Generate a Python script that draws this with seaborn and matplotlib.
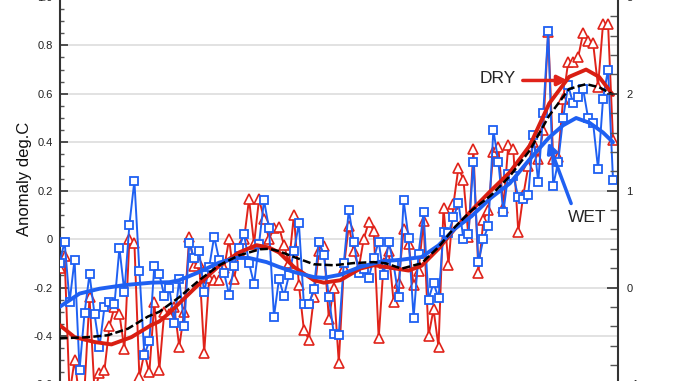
import numpy as np
import pandas as pd
import matplotlib
matplotlib.use("Agg")
import matplotlib.pyplot as plt
import seaborn as sns
from matplotlib.ticker import MultipleLocator, FuncFormatter

# yearly anomalies (deg C); values below -0.6 run off the bottom
years = list(range(1900, 2012))
dry = [
    -0.12, -0.07, -0.64, -0.50, -0.66, -0.62, -0.24, -0.63, -0.555, -0.54,
    -0.36, -0.28, -0.31, -0.455, 0.0, -0.015, -0.57, -0.47, -0.55, -0.26,
    -0.54, -0.30, -0.31, -0.28, -0.445, -0.30, 0.01, -0.11, -0.10, -0.47,
    -0.16, -0.17, -0.17, -0.12, 0.0, -0.165, -0.05, 0.0, 0.165, -0.02,
    0.165, 0.085, 0.0, 0.045, 0.05, -0.025, -0.10, 0.10, -0.19, -0.375,
    -0.415, -0.24, -0.05, -0.03, -0.33, -0.20, -0.51, -0.12, 0.055, -0.05,
    -0.12, 0.0, 0.07, 0.035, -0.41, -0.10, -0.05, -0.26, -0.18, 0.04,
    -0.02, -0.19, -0.13, 0.075, -0.40, -0.29, -0.445, 0.13, -0.105, 0.145,
    0.295, 0.245, 0.01, 0.37, -0.14, 0.08, 0.12, 0.36, 0.38, 0.13,
    0.39, 0.37, 0.03, 0.18, 0.30, 0.40, 0.33, 0.45, 0.855, 0.33,
    0.34, 0.58, 0.73, 0.73, 0.75, 0.85, 0.82, 0.81, 0.63, 0.89,
    0.89, 0.41,
]
wet = [
    -0.10, -0.01, -0.26, -0.085, -0.54, -0.305, -0.145, -0.31, -0.445, -0.28,
    -0.26, -0.27, -0.037, -0.22, 0.06, 0.24, -0.13, -0.48, -0.42, -0.11,
    -0.145, -0.235, -0.20, -0.345, -0.165, -0.36, -0.015, -0.08, -0.05, -0.22,
    -0.115, 0.01, -0.085, -0.14, -0.23, -0.11, -0.035, 0.02, -0.10, -0.185,
    -0.02, 0.16, 0.045, -0.32, -0.165, -0.235, -0.15, -0.05, 0.065, -0.27,
    -0.27, -0.205, -0.01, -0.065, -0.24, -0.39, -0.395, -0.10, 0.12, -0.01,
    -0.14, -0.125, -0.16, -0.08, -0.01, -0.15, -0.01, -0.105, -0.24, 0.16,
    0.005, -0.325, -0.06, 0.11, -0.25, -0.18, -0.245, 0.03, 0.025, 0.09,
    0.15, 0.0, 0.02, 0.32, -0.095, 0.0, 0.055, 0.45, 0.32, 0.11,
    0.27, 0.26, 0.175, 0.165, 0.18, 0.43, 0.235, 0.52, 0.86, 0.22,
    0.32, 0.50, 0.635, 0.56, 0.585, 0.62, 0.50, 0.48, 0.29, 0.58,
    0.70, 0.245,
]

dry_smooth_years = [1900, 1903, 1907, 1910.4, 1914.4, 1918.4, 1920, 1922, 1924, 1928,
                    1932, 1936, 1939.5, 1942, 1944, 1947, 1951, 1953, 1956.3, 1960.3,
                    1963, 1965.4, 1970, 1972.6, 1976, 1979.3, 1982.6, 1986.5, 1990.3, 1994.3,
                    1998.2, 2002.2, 2005.6, 2008.2, 2011]
dry_smooth = [-0.355, -0.405, -0.425, -0.435, -0.405, -0.355, -0.34, -0.305, -0.265, -0.185,
              -0.11, -0.055, -0.025, -0.035, -0.055, -0.115, -0.17, -0.18, -0.17, -0.122,
              -0.108, -0.115, -0.13, -0.11, -0.04, 0.043, 0.118, 0.20, 0.276, 0.386,
              0.56, 0.67, 0.70, 0.67, 0.595]

wet_smooth_years = [1900, 1904, 1908, 1913, 1918.4, 1922, 1924, 1928, 1932, 1935.5,
                    1938, 1941.5, 1944, 1947, 1951, 1953, 1956.3, 1960.3, 1964.6, 1968.6,
                    1972.6, 1976, 1979.3, 1982.6, 1986.5, 1990.3, 1994.3, 1998.2, 2001, 2003.6,
                    2006.3, 2009, 2011]
wet_smooth = [-0.28, -0.225, -0.205, -0.19, -0.18, -0.178, -0.17, -0.136, -0.097, -0.078,
              -0.078, -0.095, -0.115, -0.136, -0.157, -0.16, -0.147, -0.115, -0.092, -0.085,
              -0.074, -0.026, 0.043, 0.094, 0.17, 0.23, 0.33, 0.42, 0.47, 0.50,
              0.48, 0.44, 0.40]

all_smooth_years = [1900, 1905.7, 1909.7, 1913.7, 1917.7, 1920, 1922, 1924, 1928, 1932,
                    1936, 1940.2, 1942, 1944, 1947, 1951, 1955, 1959, 1963, 1965.4,
                    1968.6, 1972.6, 1976, 1979.3, 1982.6, 1986.5, 1990.3, 1994.3, 1998.2, 2002.2,
                    2005.6, 2008.2, 2011]
all_smooth = [-0.41, -0.405, -0.397, -0.37, -0.32, -0.30, -0.27, -0.24, -0.17, -0.108,
              -0.067, -0.042, -0.04, -0.05, -0.074, -0.104, -0.108, -0.099, -0.095, -0.10,
              -0.122, -0.10, -0.033, 0.05, 0.118, 0.18, 0.26, 0.366, 0.51, 0.62,
              0.64, 0.627, 0.597]

RED = "#e0231a"
BLUE = "#1f60f2"

sns.set_style("white")
plt.rcParams["font.family"] = ["Liberation Sans", "DejaVu Sans"]

df = pd.DataFrame({"year": years, "dry": dry, "wet": wet})
dry_sm = pd.DataFrame({"year": dry_smooth_years, "value": dry_smooth})
wet_sm = pd.DataFrame({"year": wet_smooth_years, "value": wet_smooth})
all_sm = pd.DataFrame({"year": all_smooth_years, "value": all_smooth})

fig = plt.figure(figsize=(6.78, 3.81), dpi=100)
ax = fig.add_axes([59.6 / 678, -0.0089, (618 - 59.6) / 678, 1.017])

sns.lineplot(data=df, x="year", y="dry", ax=ax, color=RED, lw=1.4,
             marker="^", markersize=7.5, markerfacecolor="white",
             markeredgecolor=RED, markeredgewidth=1.2, errorbar=None, zorder=3)
sns.lineplot(data=df, x="year", y="wet", ax=ax, color=BLUE, lw=1.4,
             marker="s", markersize=6.2, markerfacecolor="white",
             markeredgecolor=BLUE, markeredgewidth=1.3, errorbar=None, zorder=4)

sns.lineplot(data=dry_sm, x="year", y="value", ax=ax, color="#d91e12", lw=2.8,
             errorbar=None, zorder=5)
sns.lineplot(data=wet_sm, x="year", y="value", ax=ax, color=BLUE, lw=2.8,
             errorbar=None, zorder=6)
sns.lineplot(data=all_sm, x="year", y="value", ax=ax, color="black", lw=1.8,
             linestyle=(0, (3.2, 1.3)), errorbar=None, zorder=7)

ax.set_xlim(1900, 2012)
ax.set_ylim(-0.6, 1.0)
ax.set_xlabel("")
ax.set_ylabel("")
ax.set_axisbelow(True)
ax.yaxis.grid(True, color="#dddddd", lw=1.2)
ax.yaxis.set_major_locator(MultipleLocator(0.2))
ax.yaxis.set_minor_locator(MultipleLocator(0.05))
ax.xaxis.set_major_locator(MultipleLocator(20))
ax.xaxis.set_minor_locator(MultipleLocator(5))
ax.yaxis.set_major_formatter(FuncFormatter(lambda v, _: "0" if abs(v) < 1e-9 else f"{v:.1f}"))
ax.tick_params(axis="both", which="major", direction="in", length=6, width=1.2,
               color="#333333", labelsize=8, labelcolor="#222222", pad=5)
ax.tick_params(axis="both", which="minor", direction="in", length=3, width=1.0,
               color="#555555")
ax.tick_params(axis="x", which="major", length=8)
ax.tick_params(axis="x", which="minor", length=4)
ax.tick_params(axis="x", labelbottom=False)
for side in ["left", "bottom", "top"]:
    ax.spines[side].set_color("#333333")
    ax.spines[side].set_linewidth(1.5)
ax.spines["right"].set_visible(False)

ax2 = ax.twinx()
ax2.set_ylim(-1, 3)
ax2.yaxis.set_major_locator(MultipleLocator(1))
ax2.yaxis.set_minor_locator(MultipleLocator(0.2))
ax2.tick_params(axis="y", which="major", direction="in", length=8, width=1.2,
                color="#333333", labelsize=8, labelcolor="#222222", pad=6)
ax2.tick_params(axis="y", which="minor", direction="in", length=6, width=1.0,
                color="#555555")
for side in ["left", "bottom", "top"]:
    ax2.spines[side].set_visible(False)
ax2.spines["right"].set_color("#333333")
ax2.spines["right"].set_linewidth(1.5)

fig.text(25 / 678, 1 - 179 / 381, "Anomaly deg.C", rotation=90,
         ha="center", va="center", fontsize=12, color="#111111")

ax.text(1987.9, 0.663, "DRY", ha="center", va="center", fontsize=12.5, zorder=8)
ax.annotate("", xy=(2001.9, 0.655), xytext=(1992.9, 0.655),
            arrowprops=dict(arrowstyle="-|>", color=RED, lw=2.5,
                            mutation_scale=15, shrinkA=0, shrinkB=0), zorder=8)
ax.text(2005.8, 0.091, "WET", ha="center", va="center", fontsize=12.5, zorder=8)
ax.annotate("", xy=(1998.0, 0.40), xytext=(2002.6, 0.147),
            arrowprops=dict(arrowstyle="-|>", color=BLUE, lw=2.5,
                            mutation_scale=15, shrinkA=0, shrinkB=0), zorder=8)

fig.savefig("out.png", dpi=100)
